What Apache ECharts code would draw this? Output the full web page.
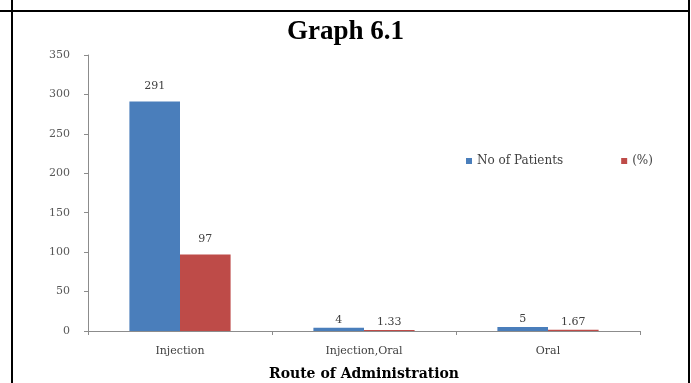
<!DOCTYPE html>
<html>
<head>
<meta charset="utf-8">
<style>
  html, body { margin: 0; padding: 0; background: #fff; }
  #chart { width: 691px; height: 383px; }
</style>
<script src="https://cdn.jsdelivr.net/npm/echarts@6/dist/echarts.min.js"></script>
</head>
<body>
<div id="chart"></div>
<script>
// Route of administration breakdown
const categories = ['Injection', 'Injection,Oral', 'Oral'];
const patients = [291, 4, 5];
const percent = [97, 1.33, 1.67];
const seriesNames = ['No of Patients', '(%)'];
const yTicks = [0, 50, 100, 150, 200, 250, 300, 350];

const times = '"Liberation Serif", "Times New Roman", serif';
const wideSerif = '"DejaVu Serif", "Liberation Serif", serif';
const chart = echarts.init(document.getElementById('chart'));

// small bars carry their label closer to the bar top
function withLabels(values) {
  return values.map(v => ({
    value: v,
    label: { distance: v < 20 ? 2 : 10 }
  }));
}

const valueLabel = {
  show: true,
  position: 'top',
  fontFamily: wideSerif,
  fontSize: 11,
  color: '#404040'
};

chart.setOption({
  animation: false,
  backgroundColor: '#ffffff',
  title: {
    text: 'Graph 6.1',
    left: 'center',
    top: 14,
    textStyle: { fontFamily: times, fontWeight: 'bold', fontSize: 27, color: '#000' }
  },
  legend: {
    data: seriesNames,
    left: 461,
    top: 150,
    itemWidth: 6,
    itemHeight: 6,
    itemGap: 58,
    icon: 'rect',
    textStyle: { fontFamily: wideSerif, fontSize: 12, color: '#404040' }
  },
  grid: { left: 88, right: 51, top: 55, bottom: 52, outerBoundsMode: 'none', containLabel: false },
  xAxis: {
    type: 'category',
    data: categories,
    name: 'Route of Administration',
    nameLocation: 'middle',
    nameGap: 36,
    nameTextStyle: { fontFamily: wideSerif, fontWeight: 'bold', fontSize: 14, color: '#000' },
    axisLine: { lineStyle: { color: '#8c8c8c', width: 1 } },
    axisTick: { show: true, length: 4, lineStyle: { color: '#8c8c8c' } },
    axisLabel: { fontFamily: wideSerif, fontSize: 11, color: '#404040', margin: 15 }
  },
  yAxis: {
    type: 'value',
    min: yTicks[0],
    max: yTicks[yTicks.length - 1],
    interval: 50,
    axisLine: { show: true, lineStyle: { color: '#8c8c8c', width: 1 } },
    axisTick: { show: true, length: 4, lineStyle: { color: '#8c8c8c' } },
    splitLine: { show: false },
    axisLabel: { fontFamily: wideSerif, fontSize: 11, color: '#595959', margin: 18 }
  },
  series: [
    {
      name: seriesNames[0],
      type: 'bar',
      data: withLabels(patients),
      barGap: '0%',
      barCategoryGap: '45%',
      itemStyle: { color: '#4a7ebb' },
      label: valueLabel
    },
    {
      name: seriesNames[1],
      type: 'bar',
      data: withLabels(percent),
      itemStyle: { color: '#be4b48' },
      label: valueLabel
    }
  ],
  graphic: [
    { type: 'line', shape: { x1: 0, y1: 11, x2: 689, y2: 11 }, style: { stroke: '#000', lineWidth: 2 } },
    { type: 'line', shape: { x1: 12, y1: 0, x2: 12, y2: 383 }, style: { stroke: '#000', lineWidth: 2 } },
    { type: 'line', shape: { x1: 689, y1: 0, x2: 689, y2: 383 }, style: { stroke: '#000', lineWidth: 2 } }
  ]
});
</script>
</body>
</html>
